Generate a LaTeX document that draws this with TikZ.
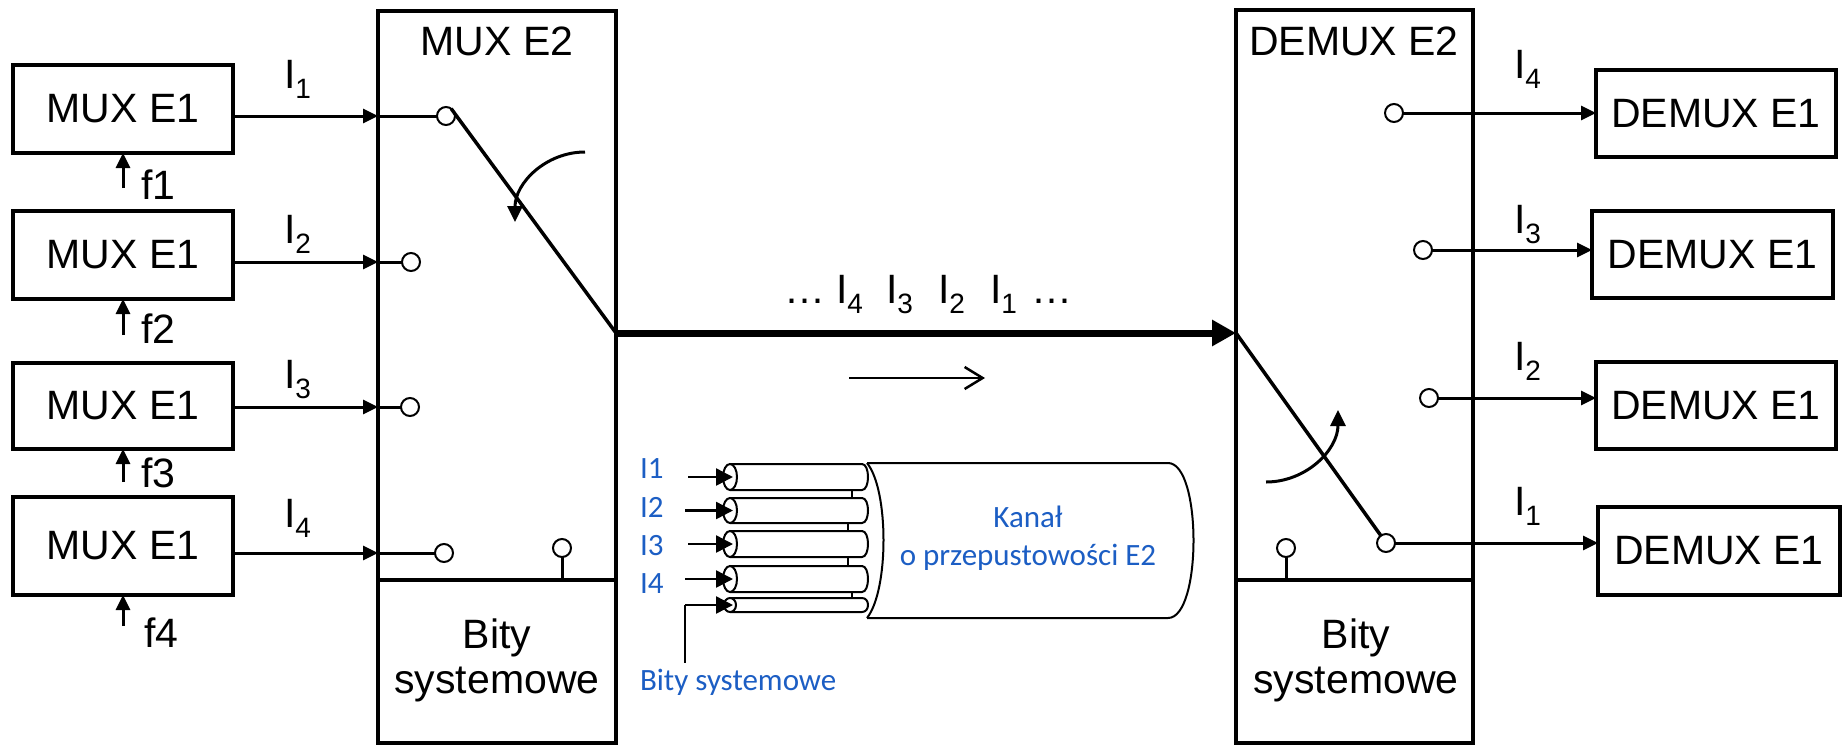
\documentclass[tikz,border=0pt]{standalone}
\usepackage{fontspec}
\setmainfont{Liberation Sans}
\newfontfamily\calibri{Carlito}
\usetikzlibrary{arrows.meta}
\definecolor{textblue}{RGB}{28,94,196}

% tributary label: I with a lowered, smaller index
\newcommand\Isub[1]{I\raisebox{-10pt}{\fontsize{28pt}{28pt}\selectfont #1}}

\begin{document}
\begin{tikzpicture}[x=1pt,y=-1pt,
  every node/.style={inner sep=0pt, outer sep=0pt},
  bigtext/.style={font=\fontsize{41pt}{45pt}\selectfont},
  bluetext/.style={text=textblue, font=\calibri\fontsize{31pt}{36pt}\selectfont},
  unitbox/.style={draw, line width=3.5pt, bigtext},
  bigframe/.style={draw, line width=3.5pt},
  sig/.style={line width=3pt, -{Triangle[length=15pt,width=14pt]}},
  wire/.style={line width=3pt},
  switchline/.style={line width=3.5pt},
  turn/.style={line width=3pt, -{Triangle[length=16pt,width=15pt]}},
  contact/.style={circle, draw, fill=white, line width=2pt, minimum size=18pt},
  tube/.style={line width=2pt, fill=white},
  tubearrow/.style={line width=2.5pt, -{Triangle[length=17pt,width=17pt]}},
]
\fill[white] (0,0) rectangle (1843,745);
\useasboundingbox (0,0) rectangle (1843,745);

% ---------------- E1 multiplexers ----------------
\node[unitbox, minimum width=220pt, minimum height=88pt] (mux1) at (123,109) {MUX E1};
\node[unitbox, minimum width=220pt, minimum height=88pt] (mux2) at (123,255) {MUX E1};
\node[unitbox, minimum width=220pt, minimum height=86pt] (mux3) at (123,406) {MUX E1};
\node[unitbox, minimum width=220pt, minimum height=98pt] (mux4) at (123,546) {MUX E1};

% clock inputs
\coordinate (ft1) at (123,188);
\coordinate (ft2) at (123,335);
\coordinate (ft3) at (123,482);
\coordinate (ft4) at (123,626);
\draw[sig] (ft1) -- (mux1.south);
\draw[sig] (ft2) -- (mux2.south);
\draw[sig] (ft3) -- (mux3.south);
\draw[sig] (ft4) -- (mux4.south);
\node[bigtext, anchor=base west] (f1) at (141,199) {f1};
\node[bigtext, anchor=base west] (f2) at (141,343) {f2};
\node[bigtext, anchor=base west] (f3) at (141,487) {f3};
\node[bigtext, anchor=base west] (f4) at (144,647) {f4};

% ---------------- MUX E2 ----------------
\node[bigframe, minimum width=238pt, minimum height=732pt] (muxtwo) at (497,377) {};
\draw[line width=3.5pt] (muxtwo.west |- 0,580) -- (muxtwo.east |- 0,580);
\node[bigtext, anchor=base] (muxtwolbl) at (497,55) {MUX E2};
\node[bigtext, anchor=base] (muxbity) at (497,648) {Bity};
\node[bigtext, anchor=base] (muxsys) at (497,693) {systemowe};

\node[contact] (c1) at (446,116) {};
\node[contact] (c2) at (411,262) {};
\node[contact] (c3) at (410,407) {};
\node[contact] (c4) at (444,553) {};
\node[contact] (cb) at (562,548) {};
\draw[wire] (cb.south) -- (cb.south |- 0,580);

\draw[sig] (mux1.east |- c1) -- (muxtwo.west |- c1);
\draw[sig] (mux2.east |- c2) -- (muxtwo.west |- c2);
\draw[sig] (mux3.east |- c3) -- (muxtwo.west |- c3);
\draw[sig] (mux4.east |- c4) -- (muxtwo.west |- c4);
\draw[wire] (muxtwo.west |- c1) -- (c1.west);
\draw[wire] (muxtwo.west |- c2) -- (c2.west);
\draw[wire] (muxtwo.west |- c3) -- (c3.west);
\draw[wire] (muxtwo.west |- c4) -- (c4.west);

\node[bigtext, anchor=base west] (li1) at (284,88) {\Isub{1}};
\node[bigtext, anchor=base west] (li2) at (284,243) {\Isub{2}};
\node[bigtext, anchor=base west] (li3) at (284,388) {\Isub{3}};
\node[bigtext, anchor=base west] (li4) at (284,527) {\Isub{4}};

% rotating switch
\coordinate (mout) at (616,333);
\draw[switchline] (c1.55) -- (mout);
\coordinate (rotA) at (585,152);
\coordinate (rotB) at (515,222);
\draw[turn] (rotA) .. controls (546,152) and (515,183) .. (rotB);

% ---------------- E2 line ----------------
\coordinate (din) at (1236,333);
\draw[line width=7pt, -{Triangle[length=24pt,width=25pt]}] (mout) -- (din);
\node[bigtext, anchor=base west] (dotsL) at (784,303) {…};
\node[bigtext, anchor=base west] (s4) at (836,303) {\Isub{4}};
\node[bigtext, anchor=base west] (s3) at (886,303) {\Isub{3}};
\node[bigtext, anchor=base west] (s2) at (938,303) {\Isub{2}};
\node[bigtext, anchor=base west] (s1) at (990,303) {\Isub{1}};
\node[bigtext, anchor=base west] (dotsR) at (1031,303) {…};
\coordinate (flowA) at (849,378);
\coordinate (flowB) at (985,378);
\draw[line width=2.5pt, -{Straight Barb[length=18pt,width=22pt]}] (flowA) -- (flowB);

% ---------------- channel sketch ----------------
\draw[line width=2pt] (867,463) -- (1168,463)
  .. controls (1202,463) and (1202,618) .. (1168,618) -- (867,618);
\draw[line width=2pt] (867,463) .. controls (889,490) and (889,590) .. (867,618);

\foreach \cy/\hh/\rx in {477/13/7, 510.5/12.5/7, 544/13/7, 579/13/7, 605/7/6}{
  \draw[tube] (730,\cy-\hh) -- (862,\cy-\hh)
    .. controls (870,\cy-\hh) and (870,\cy+\hh) .. (862,\cy+\hh) -- (730,\cy+\hh);
  \draw[tube] (730,\cy) ellipse [x radius=\rx pt, y radius=\hh pt];
}
\draw[line width=1.5pt] (852,490) -- (852,498);
\draw[line width=1.5pt] (848,523) -- (848,531);
\draw[line width=1.5pt] (848,557) -- (848,566);
\draw[line width=1.5pt] (852,592) -- (852,598);

\node[bluetext, anchor=base west] (b1) at (640,478) {I1};
\node[bluetext, anchor=base west] (b2) at (640,517) {I2};
\node[bluetext, anchor=base west] (b3) at (640,555) {I3};
\node[bluetext, anchor=base west] (b4) at (640,593) {I4};
\node[bluetext, anchor=base west] (bsys) at (640,690) {Bity systemowe};

\coordinate (a1) at (688,477);   \coordinate (t1) at (733,477);
\coordinate (a2) at (685,510.5); \coordinate (t2) at (733,510.5);
\coordinate (a3) at (688,544);   \coordinate (t3) at (733,544);
\coordinate (a4) at (685,579);   \coordinate (t4) at (733,579);
\coordinate (a5) at (685,605);   \coordinate (t5) at (733,605);
\coordinate (bsysTop) at (685,663);
\draw[tubearrow] (a1) -- (t1);
\draw[tubearrow] (a2) -- (t2);
\draw[tubearrow] (a3) -- (t3);
\draw[tubearrow] (a4) -- (t4);
\draw[tubearrow] (a5) -- (t5);
\draw[line width=2pt] (a5) -- (bsysTop);

\node[bluetext, anchor=base] (kanal) at (1028,527) {Kanał};
\node[bluetext, anchor=base] (kanaltwo) at (1028,565) {o przepustowości E2};

% ---------------- DEMUX E2 ----------------
\node[bigframe, minimum width=237pt, minimum height=733pt] (demuxtwo) at (1354.5,376.5) {};
\draw[line width=3.5pt] (demuxtwo.west |- 0,580) -- (demuxtwo.east |- 0,580);
\node[bigtext, anchor=base] (demuxtwolbl) at (1354,55) {DEMUX E2};
\node[bigtext, anchor=base] (dmbity) at (1356,648) {Bity};
\node[bigtext, anchor=base] (dmsys) at (1356,693) {systemowe};

\node[contact] (d4) at (1394,113) {};
\node[contact] (d3) at (1423,250) {};
\node[contact] (d2) at (1429,398) {};
\node[contact] (d1) at (1386,543) {};
\node[contact] (db) at (1286,548) {};
\draw[wire] (db.south) -- (db.south |- 0,580);

\draw[switchline] (din) -- (d1.125);
\coordinate (rotC) at (1266,482);
\coordinate (rotD) at (1338,410);
\draw[turn] (rotC) .. controls (1306,482) and (1338,450) .. (rotD);

% ---------------- E1 demultiplexers ----------------
\node[unitbox, minimum width=240pt, minimum height=87pt] (dm4) at (1716,113.5) {DEMUX E1};
\node[unitbox, minimum width=241pt, minimum height=87pt] (dm3) at (1712.5,254.5) {DEMUX E1};
\node[unitbox, minimum width=240pt, minimum height=87pt] (dm2) at (1716,405.5) {DEMUX E1};
\node[unitbox, minimum width=242pt, minimum height=88pt] (dm1) at (1719,551) {DEMUX E1};

\draw[sig] (d4.east) -- (dm4.west |- d4);
\draw[sig] (d3.east) -- (dm3.west |- d3);
\draw[sig] (d2.east) -- (dm2.west |- d2);
\draw[sig] (d1.east) -- (dm1.west |- d1);

\node[bigtext, anchor=base west] (ri4) at (1514,78) {\Isub{4}};
\node[bigtext, anchor=base west] (ri3) at (1514,233) {\Isub{3}};
\node[bigtext, anchor=base west] (ri2) at (1514,370) {\Isub{2}};
\node[bigtext, anchor=base west] (ri1) at (1514,515) {\Isub{1}};
\end{tikzpicture}
\end{document}
